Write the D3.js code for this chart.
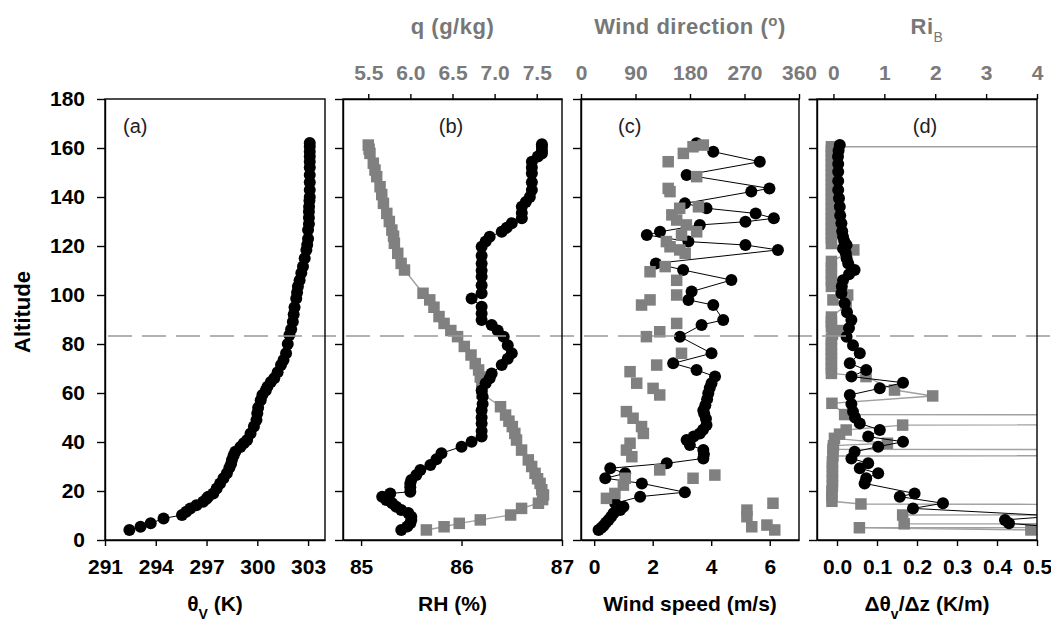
<!DOCTYPE html>
<html lang="en">
<head>
<meta charset="UTF-8">
<title>Altitude profiles</title>
<script src="https://cdn.jsdelivr.net/npm/d3@7"></script>
<style>
  body { margin: 0; background: #fff; }
  svg { display: block; font-family: "Liberation Sans", Arial, sans-serif; }
  .axis text { font-size: 21px; font-weight: bold; }
  .axis path, .axis line { stroke: #000; stroke-width: 1.4; }
  .top-axis text { fill: #7a7a7a; }
  .title { font-size: 21px; font-weight: bold; }
  .ytitle { font-size: 22px; font-weight: bold; }
  .top-title { font-size: 22px; font-weight: bold; fill: #777; letter-spacing: 0.5px; }
  .plabel { font-size: 20px; fill: #222; }
</style>
</head>
<body>
<svg id="chart" width="1051" height="626"></svg>
<script>
// (a) virtual potential temperature
var thetaAlt = [4.1,5.4,6.8,8.8,10.2,11.5,12.9,14.2,15.6,16.8,17.7,19,21,23.1,25.2,27.2,29.5,31,32.7,34.5,36,38,39.5,40.8,43.5,46.3,49,51.7,54,57,59.2,61,62.6,64.5,66,68.5,71.4,73.5,76.2,80,83.7,86,89.1,92,95,98.6,101,103.5,106,109,111.6,115,118.4,120.5,123,126.5,129,131.5,134,136,138.5,140,142.9,146,149,152,154.4,156.5,158.5,160.5,162];
var thetaVal = [292.44,293.1,293.7,294.46,295.55,295.8,296.04,296.4,296.8,297.0,297.1,297.4,297.6,297.8,298.0,298.2,298.35,298.45,298.5,298.6,298.7,299.0,299.2,299.4,299.6,299.8,299.95,300.0,300.05,300.2,300.3,300.5,300.6,300.8,301.0,301.2,301.4,301.55,301.7,301.8,301.9,302.0,302.1,302.15,302.2,302.3,302.35,302.4,302.5,302.6,302.7,302.8,302.9,302.95,303.0,303.0,303.05,303.05,303.05,303.06,303.08,303.1,303.1,303.1,303.1,303.1,303.1,303.1,303.1,303.1,303.1];

// (b) relative humidity and specific humidity
var rhAlt = [4.1,5.5,6.8,8.2,9.5,11,12.2,13.6,15,16.3,17.7,19,19.7,21.5,23.1,24.5,26.5,28.6,30.6,33,35.4,38.1,40.1,42.2,44.5,47.6,50,53,55.5,58.5,61,64,66,68,71.4,74,76.2,79.5,83,85.5,87.8,89.8,92.5,95.2,98.6,100.7,104,107.5,110,112.9,116,119.7,121.8,123.8,125.8,127.5,129.3,131.3,133.5,136,138,140,142.9,146,149.7,152,154.4,156.5,157.8,159,160.5,161.5];
var rhVal = [85.40,85.46,85.49,85.50,85.50,85.47,85.40,85.35,85.31,85.25,85.21,85.29,85.49,85.49,85.49,85.50,85.55,85.59,85.69,85.75,85.80,86.00,86.10,86.20,86.20,86.20,86.20,86.20,86.21,86.21,86.20,86.24,86.28,86.30,86.40,86.46,86.50,86.46,86.42,86.36,86.30,86.20,86.20,86.20,86.10,86.20,86.20,86.20,86.20,86.20,86.20,86.20,86.24,86.28,86.40,86.45,86.50,86.60,86.60,86.60,86.64,86.68,86.70,86.70,86.70,86.70,86.70,86.76,86.80,86.80,86.80,86.80];
var qAlt = [4.1,5.4,6.8,8.2,10.2,12.9,15,16.5,18.4,20.5,23.1,25,27.2,30,32.7,36.7,40.8,43.5,46.3,48.5,51,54.4,59.9,62,64,66.5,69.4,72,75.5,79,83,85.5,88.4,91.2,95,98,100.7,110.2,112.9,117,121.1,124,126.5,130,133.3,137.4,141,144.2,148.3,151,153.8,157.8,159.5,161.2];
var qVal = [6.19,6.40,6.58,6.83,7.19,7.32,7.52,7.57,7.58,7.56,7.54,7.51,7.48,7.44,7.40,7.32,7.26,7.24,7.21,7.17,7.13,7.07,6.85,6.85,6.85,6.83,6.81,6.77,6.72,6.64,6.56,6.48,6.40,6.34,6.28,6.23,6.15,5.93,5.89,5.85,5.81,5.80,5.78,5.75,5.72,5.68,5.66,5.64,5.60,5.58,5.56,5.52,5.51,5.50];

// (c) wind speed and wind direction
var wsAlt = [4.1,5.0,5.8,7.0,8.2,9.5,10.9,12.2,13.6,15,17.7,19.5,23.1,25.2,27.2,29.3,31.3,33.3,35,36.7,38.8,40.8,42.2,43.5,45,46.9,49.5,51.5,53,55,57.5,59.9,62,64,66.7,69.4,72.1,76.2,83,87.8,89.8,95.9,98,101.4,106.1,110.2,112.9,118.4,120.4,121.8,124.5,125.8,128.6,129.9,131.3,133.3,135.4,137.4,142.2,143.5,149,154.4,158.5,161.9];
var wsVal = [0.15,0.25,0.32,0.40,0.49,0.58,0.66,0.89,1.0,0.72,1.57,3.10,1.63,0.38,1.06,0.55,2.48,3.73,3.75,3.73,3.27,3.16,3.40,3.61,3.72,3.84,3.82,3.76,3.73,3.80,3.86,3.90,3.95,4.01,4.13,3.50,2.70,4.01,2.93,3.67,4.41,4.07,3.22,3.33,4.69,3.04,2.11,6.28,5.17,3.22,1.80,2.25,3.61,5.17,6.14,5.52,3.84,3.10,5.37,5.99,3.16,5.66,4.07,3.50];
var wdAlt = [4.1,5.4,6.1,9.5,12.2,15,17,19,22.4,25.2,25.2,26.5,28.6,34,36.7,39.5,43.5,46.3,49.7,52.4,59.2,61.9,64,68.7,71.4,76.2,83,85,88.4,95.9,98,100,106,109.5,111.6,117,118.4,119.7,121.8,124.5,125.8,128.6,130.6,132.7,135.4,136,142.2,143.5,148.3,154.4,157.8,160.5,161.2];
var wdVal = [320,282,307,274,274,317,42,56,70,73,185,221,130,84,75,81,103,100,86,75,130,119,92,81,125,166,108,130,158,100,114,158,158,114,139,172,163,147,141,166,191,174,158,150,163,194,147,144,191,144,169,185,202];

// (d) lapse rate and bulk Richardson number
var dtAlt = [4.5,6.8,8.2,9.8,12.9,15,17.7,19,23.1,25.2,27.2,29.3,31.3,33.3,36,38.1,40.1,42.2,44.9,47.6,50,52.4,55.5,59.2,61.9,64.2,66.7,69.4,72.1,76.2,79.5,83,86.5,89.8,93,96.6,100.7,103.5,106,108.5,110.2,112.9,115,117,119,120.4,122,123.8,126,129.3,132.5,136,139.5,142.9,146.5,150.3,153.5,156.5,159,161.2];
var dtVal = [0.60,0.43,0.42,0.55,0.19,0.265,0.157,0.194,0.069,0.073,0.103,0.057,0.078,0.036,0.044,0.103,0.165,0.078,0.107,0.057,0.045,0.040,0.036,0.032,0.107,0.165,0.036,0.073,0.032,0.057,0.040,0.024,0.030,0.036,0.025,0.019,0.011,0.012,0.015,0.030,0.044,0.028,0.024,0.022,0.015,0.024,0.018,0.015,0.013,0.011,0.008,0.007,0.005,0.003,0.003,0.003,0.003,0.0025,0.004,0.007];
var riAlt = [4.1,5.0,6.0,6.6,8.5,10.2,11.5,14.7,15.8,18,20,22,24,26,28,30,32,34.3,35.6,37,38.5,39.5,41.5,43.2,44.9,46.9,49.5,51.2,55.8,58.8,61.2,66.7,68,70,72,74,76,78,80,82,84,85.5,87,89,91,95.9,98,100,103.5,106,108.5,111,113.7,118.4,121,123,125,127,129,131,133,135,137,139,141,143,145,147,149,151,153,155,157,159,160.5,161.2];
var riVal = [3.88,0.51,80,1.39,80,1.36,80,0.54,-0.03,-0.03,-0.03,-0.02,-0.02,-0.02,-0.02,-0.02,-0.02,-0.01,80,-0.01,0.0,1.06,0.02,0.12,0.25,1.36,80,0.22,-0.03,1.95,1.2,0.64,-0.04,-0.04,-0.04,-0.04,-0.04,-0.04,-0.04,-0.04,-0.02,0.12,-0.04,-0.04,-0.04,0.25,-0.01,0.28,-0.04,-0.04,-0.04,-0.04,-0.04,0.40,-0.04,-0.04,-0.04,-0.04,-0.04,-0.04,-0.04,-0.04,-0.04,-0.04,-0.04,-0.04,-0.04,-0.04,-0.04,-0.04,-0.04,-0.04,-0.04,-0.04,-0.04,80];

// ticks
var altTicks = [0,20,40,60,80,100,120,140,160,180];
var thetaTicks = [291,294,297,300,303];
var rhTicks = [85,86,87];
var qTicks = [5.5,6.0,6.5,7.0,7.5];
var wsTicks = [0,2,4,6];
var wdTicks = [0,90,180,270,360];
var dtTicks = [0.0,0.1,0.2,0.3,0.4,0.5];
var riTicks = [0,1,2,3,4];
var mixedLayerTop = 83.3;

var svg = d3.select('#chart');
var plotTop = 99, plotBottom = 540;

var panels = [
  {id: 'pa', x0: 105, x1: 325, label: '(a)', lx: 123, anchor: 'start'},
  {id: 'pb', x0: 343, x1: 562, label: '(b)', lx: 451, anchor: 'middle'},
  {id: 'pc', x0: 581, x1: 799, label: '(c)', lx: 618, anchor: 'start'},
  {id: 'pd', x0: 817, x1: 1037, label: '(d)', lx: 925, anchor: 'middle'}
];

var y = d3.scaleLinear().domain([0, 180]).range([plotBottom, plotTop]);
var xTheta = d3.scaleLinear().domain([291, 304]).range([105, 325]);
var xRH = d3.scaleLinear().domain([84.82, 87]).range([343, 562]);
var xQ = d3.scaleLinear().domain([5.2, 7.8]).range([343, 562]);
var xWS = d3.scaleLinear().domain([-0.45, 7]).range([581, 799]);
var xWD = d3.scaleLinear().domain([0, 360]).range([581, 799]);
var xDT = d3.scaleLinear().domain([-0.05, 0.5]).range([817, 1037]);
var xRi = d3.scaleLinear().domain([-0.5, 4]).range([808, 1037]);

var defs = svg.append('defs');
panels.forEach(function (p) {
  defs.append('clipPath').attr('id', 'clip-' + p.id)
    .append('rect')
    .attr('x', p.x0).attr('y', plotTop)
    .attr('width', p.x1 - p.x0).attr('height', plotBottom - plotTop);
});

function zip(alt, val) {
  return alt.map(function (a, i) { return {a: a, v: val[i]}; });
}

// draw one profile: optional line, then markers
function profile(panelId, alt, val, xs, o) {
  var pts = zip(alt, val);
  var g = svg.append('g').attr('clip-path', 'url(#clip-' + panelId + ')');
  if (o.line) {
    g.append('path').datum(pts)
      .attr('fill', 'none')
      .attr('stroke', o.lineColor)
      .attr('stroke-width', o.lineWidth)
      .attr('d', d3.line().x(function (d) { return xs(d.v); }).y(function (d) { return y(d.a); }));
  }
  if (o.marker == 'circle') {
    g.selectAll('circle').data(pts).enter().append('circle')
      .attr('cx', function (d) { return xs(d.v); })
      .attr('cy', function (d) { return y(d.a); })
      .attr('r', 6)
      .attr('fill', '#000');
  } else {
    var s = 11.5;
    g.selectAll('rect').data(pts).enter().append('rect')
      .attr('x', function (d) { return xs(d.v) - s / 2; })
      .attr('y', function (d) { return y(d.a) - s / 2; })
      .attr('width', s).attr('height', s)
      .attr('fill', '#808080');
  }
}

var blackOpt = {line: true, lineColor: '#000', lineWidth: 1, marker: 'circle'};
var grayLineOpt = {line: true, lineColor: '#a0a0a0', lineWidth: 1.4, marker: 'square'};
var grayDotOpt = {line: false, marker: 'square'};

profile('pa', thetaAlt, thetaVal, xTheta, blackOpt);
profile('pb', qAlt, qVal, xQ, grayLineOpt);
profile('pb', rhAlt, rhVal, xRH, blackOpt);
profile('pc', wsAlt, wsVal, xWS, blackOpt);
profile('pc', wdAlt, wdVal, xWD, grayDotOpt);
profile('pd', riAlt, riVal, xRi, grayLineOpt);
profile('pd', dtAlt, dtVal, xDT, blackOpt);

// mixed layer top
svg.append('line')
  .attr('x1', 108).attr('x2', 1051)
  .attr('y1', y(mixedLayerTop)).attr('y2', y(mixedLayerTop))
  .attr('stroke', '#999').attr('stroke-width', 1.5)
  .attr('stroke-dasharray', '24,10');

// frames
panels.forEach(function (p) {
  svg.append('rect')
    .attr('x', p.x0).attr('y', plotTop)
    .attr('width', p.x1 - p.x0).attr('height', plotBottom - plotTop)
    .attr('fill', 'none').attr('stroke', '#000').attr('stroke-width', 1.4);
});

// left axes
panels.forEach(function (p, i) {
  var ax = d3.axisLeft(y).tickValues(altTicks).tickSize(8).tickSizeOuter(0).tickPadding(12);
  if (i > 0) ax.tickFormat(function () { return ''; });
  svg.append('g').attr('class', 'axis')
    .attr('transform', 'translate(' + p.x0 + ',0)')
    .call(ax);
});

// bottom axes
var bottomAxes = [
  [xTheta, thetaTicks, d3.format('d')],
  [xRH, rhTicks, d3.format('d')],
  [xWS, wsTicks, d3.format('d')],
  [xDT, dtTicks, d3.format('.1f')]
];
bottomAxes.forEach(function (b) {
  svg.append('g').attr('class', 'axis')
    .attr('transform', 'translate(0,' + plotBottom + ')')
    .call(d3.axisBottom(b[0]).tickValues(b[1]).tickFormat(b[2]).tickSize(6).tickSizeOuter(0).tickPadding(13));
});

// top axes
var topAxes = [
  [xQ, qTicks, d3.format('.1f')],
  [xWD, wdTicks, d3.format('d')],
  [xRi, riTicks, d3.format('d')]
];
topAxes.forEach(function (t) {
  svg.append('g').attr('class', 'axis top-axis')
    .attr('transform', 'translate(0,' + plotTop + ')')
    .call(d3.axisTop(t[0]).tickValues(t[1]).tickFormat(t[2]).tickSize(5).tickSizeOuter(0).tickPadding(14));
});

// panel letters
panels.forEach(function (p) {
  svg.append('text').attr('class', 'plabel')
    .attr('x', p.lx).attr('y', 133)
    .attr('text-anchor', p.anchor)
    .text(p.label);
});

// axis titles
svg.append('text').attr('class', 'ytitle')
  .attr('transform', 'translate(22,312) rotate(-90)')
  .attr('text-anchor', 'middle').attr('dy', '0.35em')
  .text('Altitude');

function bottomTitle(x, parts) {
  var t = svg.append('text').attr('class', 'title')
    .attr('x', x).attr('y', 611).attr('text-anchor', 'middle');
  parts.forEach(function (s) {
    var ts = t.append('tspan').text(s[0]);
    if (s[1] == 'sub') ts.attr('font-size', 14).attr('baseline-shift', 'sub');
  });
}
bottomTitle((105 + 325) / 2, [['θ'], ['V', 'sub'], [' (K)']]);
bottomTitle((343 + 562) / 2, [['RH (%)']]);
bottomTitle((581 + 799) / 2, [['Wind speed (m/s)']]);
bottomTitle((817 + 1037) / 2, [['Δθ'], ['v', 'sub'], ['/Δz (K/m)']]);

svg.append('text').attr('class', 'top-title')
  .attr('x', (343 + 562) / 2).attr('y', 34).attr('text-anchor', 'middle')
  .text('q (g/kg)');
var twd = svg.append('text').attr('class', 'top-title')
  .attr('x', (581 + 799) / 2).attr('y', 34).attr('text-anchor', 'middle');
twd.append('tspan').text('Wind direction (');
twd.append('tspan').attr('font-size', 15).attr('baseline-shift', 'super').text('o');
twd.append('tspan').text(')');
var tri = svg.append('text').attr('class', 'top-title')
  .attr('x', (817 + 1037) / 2).attr('y', 34).attr('text-anchor', 'middle');
tri.append('tspan').text('Ri');
tri.append('tspan').attr('font-size', 14).attr('font-weight', 'normal').attr('baseline-shift', 'sub').text('B');
</script>
</body>
</html>
